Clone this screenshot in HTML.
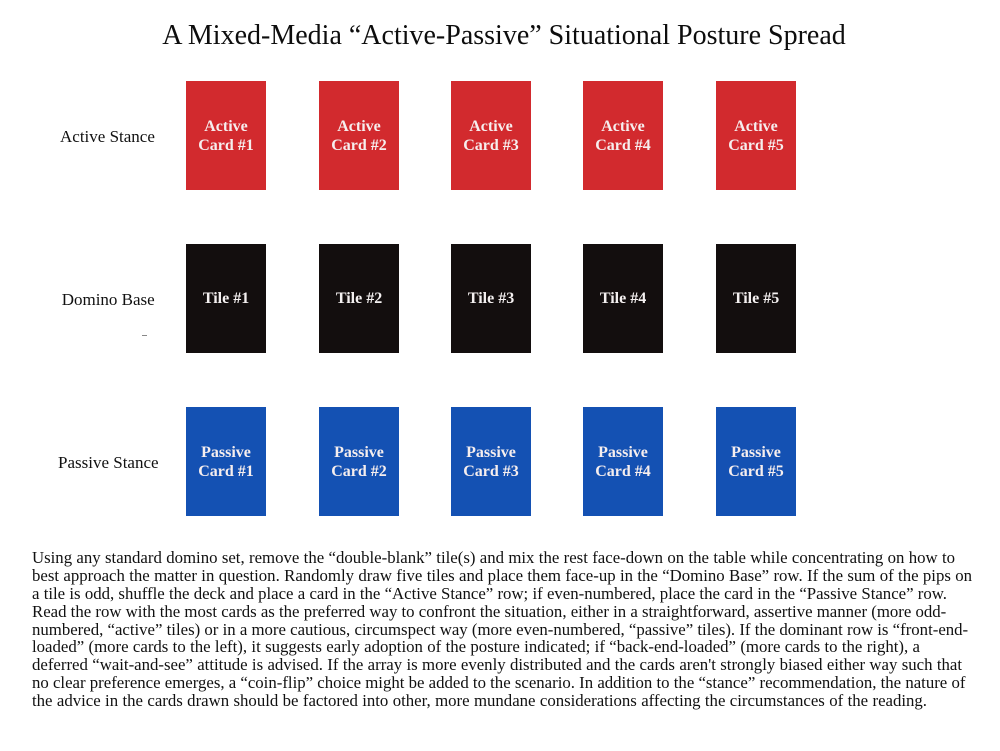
<!DOCTYPE html>
<html>
<head>
<meta charset="utf-8">
<style>
  html, body { margin:0; padding:0; background:#ffffff; }
  body { width:1000px; height:751px; position:relative; overflow:hidden; font-family:"Liberation Serif", "Times New Roman", serif; color:#111; }
  .title { position:absolute; left:0; width:1008px; top:21.5px; text-align:center; font-size:28px; line-height:28px; white-space:nowrap; color:#0d0d0d; }
  .lbl { position:absolute; font-size:17px; line-height:17px; white-space:nowrap; color:#111; }
  .card { position:absolute; width:80px; height:109px; display:flex; align-items:center; justify-content:center; text-align:center; color:#f6eeee; font-weight:bold; font-size:16px; line-height:19px; }
  .r { background:#d22a2e; }
  .k { background:#130e0e; color:#f4f0f0; }
  .b { background:#1451b3; }
  .para { position:absolute; left:32px; top:549.4px; font-size:16.8px; line-height:17.8px; color:#111; }
  .para div { white-space:nowrap; text-align:justify; text-align-last:justify; height:17.8px; }
  .dash { position:absolute; left:142px; top:335px; width:5px; height:1px; background:#888; }
</style>
</head>
<body>
<div class="title">A Mixed-Media “Active-Passive” Situational Posture Spread</div>

<div class="lbl" style="left:60px; top:127.8px;">Active Stance</div>
<div class="lbl" style="left:61.7px; top:290.8px;">Domino Base</div>
<div class="lbl" style="left:58px; top:453.5px;">Passive Stance</div>
<div class="dash"></div>

<div class="card r" style="left:186px; top:81px;">Active<br>Card #1</div>
<div class="card r" style="left:319px; top:81px;">Active<br>Card #2</div>
<div class="card r" style="left:451px; top:81px;">Active<br>Card #3</div>
<div class="card r" style="left:583px; top:81px;">Active<br>Card #4</div>
<div class="card r" style="left:716px; top:81px;">Active<br>Card #5</div>

<div class="card k" style="left:186px; top:244px;">Tile #1</div>
<div class="card k" style="left:319px; top:244px;">Tile #2</div>
<div class="card k" style="left:451px; top:244px;">Tile #3</div>
<div class="card k" style="left:583px; top:244px;">Tile #4</div>
<div class="card k" style="left:716px; top:244px;">Tile #5</div>

<div class="card b" style="left:186px; top:407px;">Passive<br>Card #1</div>
<div class="card b" style="left:319px; top:407px;">Passive<br>Card #2</div>
<div class="card b" style="left:451px; top:407px;">Passive<br>Card #3</div>
<div class="card b" style="left:583px; top:407px;">Passive<br>Card #4</div>
<div class="card b" style="left:716px; top:407px;">Passive<br>Card #5</div>

<div class="para">
<div style="width:923px;">Using any standard domino set, remove the “double-blank” tile(s) and mix the rest face-down on the table while concentrating on how to</div>
<div style="width:940px;">best approach the matter in question. Randomly draw five tiles and place them face-up in the “Domino Base” row. If the sum of the pips on</div>
<div style="width:915px;">a tile is odd, shuffle the deck and place a card in the “Active Stance” row; if even-numbered, place the card in the “Passive Stance” row.</div>
<div style="width:910px;">Read the row with the most cards as the preferred way to confront the situation, either in a straightforward, assertive manner (more odd-</div>
<div style="width:933px;">numbered, “active” tiles) or in a more cautious, circumspect way (more even-numbered, “passive” tiles). If the dominant row is “front-end-</div>
<div style="width:888px;">loaded” (more cards to the left), it suggests early adoption of the posture indicated; if “back-end-loaded” (more cards to the right), a</div>
<div style="width:930px;">deferred “wait-and-see” attitude is advised. If the array is more evenly distributed and the cards aren't strongly biased either way such that</div>
<div style="width:930px;">no clear preference emerges, a “coin-flip” choice might be added to the scenario. In addition to the “stance” recommendation, the nature of</div>
<div style="width:895px;">the advice in the cards drawn should be factored into other, more mundane considerations affecting the circumstances of the reading.</div>
</div>
</body>
</html>
